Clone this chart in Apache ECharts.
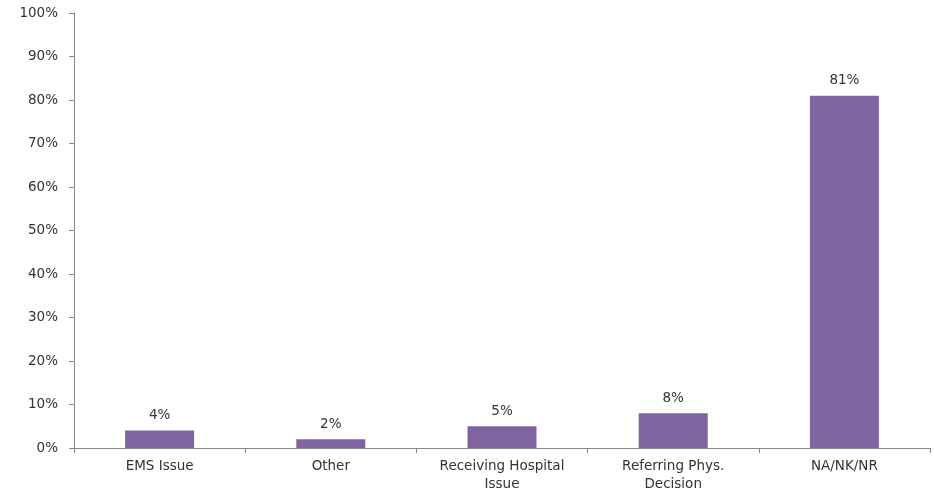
<!DOCTYPE html>
<html>
<head>
<meta charset="utf-8">
<script src="https://cdn.jsdelivr.net/npm/echarts@6/dist/echarts.min.js"></script>
<style>
  html, body { margin: 0; padding: 0; background: #ffffff; }
  #chart { width: 934px; height: 491px; }
</style>
</head>
<body>
<div id="chart"></div>
<script>
// Reasons, as percent of cases
const categories = ['EMS Issue', 'Other', 'Receiving Hospital\nIssue', 'Referring Phys.\nDecision', 'NA/NK/NR'];
const shares = [4, 2, 5, 8, 81];

const yMin = 0;
const yMax = 100;
const yStep = 10;

const textColor = '#333333';
const axisColor = '#868686';
const font = 'DejaVu Sans';

const chart = echarts.init(document.getElementById('chart'), null, { renderer: 'canvas' });
chart.setOption({
  animation: false,
  backgroundColor: '#ffffff',
  grid: {
    left: 74, right: 4, top: 13, bottom: 43,
    containLabel: false, outerBoundsMode: 'none'
  },
  xAxis: {
    type: 'category',
    data: categories,
    boundaryGap: true,
    axisLine: { show: true, lineStyle: { color: axisColor, width: 1 } },
    axisTick: { show: true, length: 5, inside: false, lineStyle: { color: axisColor } },
    axisLabel: {
      color: textColor, fontFamily: font, fontSize: 13.5, margin: 10,
      lineHeight: 17.5, interval: 0
    },
    splitLine: { show: false }
  },
  yAxis: {
    type: 'value',
    min: yMin, max: yMax, interval: yStep,
    axisLine: { show: true, lineStyle: { color: axisColor, width: 1 } },
    axisTick: { show: true, length: 5, inside: false, lineStyle: { color: axisColor } },
    axisLabel: {
      color: textColor, fontFamily: font, fontSize: 13.5, margin: 16,
      formatter: '{value}%'
    },
    splitLine: { show: false }
  },
  series: [{
    type: 'bar',
    data: shares,
    barWidth: 69,
    itemStyle: { color: '#8064A2' },
    label: {
      show: true, position: 'top', distance: 8,
      color: textColor, fontFamily: font, fontSize: 13.5,
      formatter: p => p.value + '%'
    }
  }]
});
</script>
</body>
</html>
